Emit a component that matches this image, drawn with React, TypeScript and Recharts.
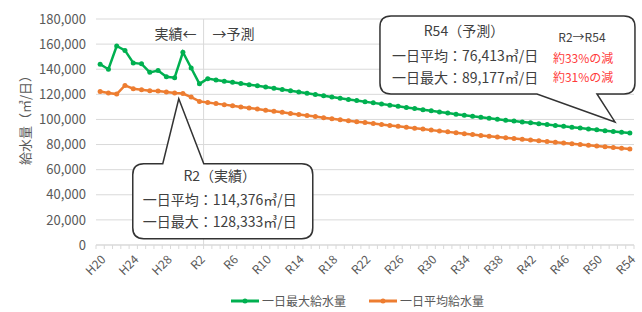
import React from "react";
import {
  CartesianGrid,
  Legend,
  Line,
  LineChart,
  ReferenceDot,
  ReferenceLine,
  XAxis,
  YAxis
} from "recharts";

const years = [
  "H20", "H21", "H22", "H23", "H24", "H25", "H26", "H27", "H28", "H29", "H30",
  "R1", "R2", "R3", "R4", "R5", "R6", "R7", "R8", "R9", "R10",
  "R11", "R12", "R13", "R14", "R15", "R16", "R17", "R18", "R19", "R20",
  "R21", "R22", "R23", "R24", "R25", "R26", "R27", "R28", "R29", "R30",
  "R31", "R32", "R33", "R34", "R35", "R36", "R37", "R38", "R39", "R40",
  "R41", "R42", "R43", "R44", "R45", "R46", "R47", "R48", "R49", "R50",
  "R51", "R52", "R53", "R54"
];

// 一日最大給水量 (㎥/日)
const maxSupply = [
  144000, 140000, 158500, 155000, 145000, 144300, 137500, 139000, 134000, 133200, 153500,
  141000, 128333, 132500, 131400, 130500, 129600, 128700, 127700, 126800, 125800,
  124800, 123900, 122900, 121900, 120900, 119900, 118900, 117900, 116900, 115900,
  115000, 114100, 113200, 112300, 111400, 110500, 109600, 108700, 107800, 106900,
  106000, 105100, 104200, 103300, 102500, 101700, 100900, 100100, 99400, 98700,
  98000, 97300, 96600, 95900, 95200, 94500, 93800, 93100, 92400, 91700,
  91000, 90400, 89800, 89177
];

// 一日平均給水量 (㎥/日)
const avgSupply = [
  122300, 121000, 120200, 127100, 124500, 123700, 122900, 122600, 121800, 121000, 120600,
  117800, 114376, 113500, 112600, 111800, 110900, 110000, 109100, 108300, 107400,
  106500, 105700, 104800, 104000, 103100, 102300, 101400, 100600, 99800, 99000,
  98200, 97500, 96700, 96000, 95200, 94500, 93700, 93000, 92300, 91500,
  90800, 90100, 89400, 88700, 88000, 87300, 86600, 86000, 85400, 84800,
  84200, 83600, 83000, 82400, 81800, 81200, 80600, 80000, 79400, 78800,
  78200, 77600, 77000, 76413
];

const yTicks = [0, 20000, 40000, 60000, 80000, 100000, 120000, 140000, 160000, 180000];
const labelYears = [
  "H20", "H24", "H28", "R2", "R6", "R10", "R14", "R18", "R22",
  "R26", "R30", "R34", "R38", "R42", "R46", "R50", "R54"
];

const FONT = '"Noto Sans CJK JP", "Noto Sans", sans-serif';
const GREEN = "#00B050";
const ORANGE = "#ED7D31";
const GRID = "#D9D9D9";
const AXIS_TEXT = "#595959";
const NOTE_TEXT = "#404040";
const RED = "#FF3B3B";

const data = years.map((year, i) => ({ idx: i, year, max: maxSupply[i], avg: avgSupply[i] }));

// category boundaries get a small tick mark, label positions get the year text
const labelTicks = labelYears.map((y) => years.indexOf(y));
const boundaryTicks = [-0.5, ...years.map((_, i) => i + 0.5)];
const xTicks = [...boundaryTicks, ...labelTicks].sort((a, b) => a - b);

function YearTick(props: any) {
  const { x, y, payload } = props;
  const v = payload.value;
  if (!Number.isInteger(v)) {
    return <line x1={x} x2={x} y1={y} y2={y + 4} stroke={GRID} />;
  }
  const tx = x + 4;
  const ty = y + 13;
  return (
    <text
      x={tx}
      y={ty}
      transform={`rotate(-45 ${tx} ${ty})`}
      textAnchor="end"
      dominantBaseline="middle"
      fontSize={12}
      fontFamily={FONT}
      fill={AXIS_TEXT}
    >
      {years[v]}
    </text>
  );
}

function R2Bubble(props: any) {
  const { cx, cy } = props;
  const l = cx - 46, r = cx + 134, t = cy + 65, b = cy + 140, rad = 11;
  const d = `M${l + rad},${t} L${cx - 16},${t} L${cx},${cy} L${cx + 25},${t} L${r - rad},${t}
    Q${r},${t} ${r},${t + rad} L${r},${b - rad} Q${r},${b} ${r - rad},${b}
    L${l + rad},${b} Q${l},${b} ${l},${b - rad} L${l},${t + rad} Q${l},${t} ${l + rad},${t} Z`;
  return (
    <g fontFamily={FONT} fill={NOTE_TEXT}>
      <path d={d} fill="#fff" stroke="#333" strokeWidth={1.5} />
      <text x={cx + 41} y={cy + 78} textAnchor="middle" dominantBaseline="middle" fontSize={14}>
        R2（実績）
      </text>
      <text x={cx - 36} y={cy + 102} dominantBaseline="middle" fontSize={14}>
        一日平均：114,376㎥/日
      </text>
      <text x={cx - 36} y={cy + 124} dominantBaseline="middle" fontSize={14}>
        一日最大：128,333㎥/日
      </text>
    </g>
  );
}

function R54Bubble(props: any) {
  const { cx, cy } = props;
  const l = cx - 235, r = cx + 20, t = cy - 106, b = cy - 28, rad = 11;
  const d = `M${l + rad},${t} L${r - rad},${t} Q${r},${t} ${r},${t + rad} L${r},${b - rad}
    Q${r},${b} ${r - rad},${b} L${cx - 18},${b} L${cx},${cy} L${cx - 78},${b}
    L${l + rad},${b} Q${l},${b} ${l},${b - rad} L${l},${t + rad} Q${l},${t} ${l + rad},${t} Z`;
  return (
    <g fontFamily={FONT} fill={NOTE_TEXT}>
      <path d={d} fill="#fff" stroke="#333" strokeWidth={1.5} />
      <text x={cx - 151} y={cy - 90} textAnchor="middle" dominantBaseline="middle" fontSize={14}>
        R54（予測）
      </text>
      <text x={cx - 223} y={cy - 65} dominantBaseline="middle" fontSize={14}>
        一日平均：76,413㎥/日
      </text>
      <text x={cx - 223} y={cy - 43} dominantBaseline="middle" fontSize={14}>
        一日最大：89,177㎥/日
      </text>
      <text x={cx - 33} y={cy - 83} textAnchor="middle" dominantBaseline="middle" fontSize={12}>
        R2→R54
      </text>
      <text x={cx - 62} y={cy - 62} dominantBaseline="middle" fontSize={12} fill={RED}>
        約33%の減
      </text>
      <text x={cx - 62} y={cy - 43} dominantBaseline="middle" fontSize={12} fill={RED}>
        約31%の減
      </text>
    </g>
  );
}

function LegendContent() {
  const items = [
    { name: "一日最大給水量", color: GREEN },
    { name: "一日平均給水量", color: ORANGE }
  ];
  return (
    <div style={{ display: "flex", marginLeft: 230, fontFamily: FONT, fontSize: 12, color: AXIS_TEXT }}>
      {items.map((it) => (
        <div key={it.name} style={{ display: "flex", alignItems: "center", marginRight: 22 }}>
          <svg width={30} height={10}>
            <line x1={1} x2={29} y1={5} y2={5} stroke={it.color} strokeWidth={3} />
            <circle cx={15} cy={5} r={2.5} fill={it.color} />
          </svg>
          <span style={{ marginLeft: 2 }}>{it.name}</span>
        </div>
      ))}
    </div>
  );
}

export default function App() {
  return (
    <div style={{ position: "absolute", left: 0, top: 0, width: 642, height: 312, background: "#fff" }}>
      <LineChart
        width={642}
        height={312}
        data={data}
        margin={{ top: 19, right: 8, bottom: 0, left: 0 }}
      >
        <CartesianGrid vertical={false} stroke={GRID} />
        <XAxis
          type="number"
          dataKey="idx"
          domain={[-0.5, 64.5]}
          ticks={xTicks}
          interval={0}
          tickSize={0}
          tickMargin={0}
          tickLine={false}
          axisLine={{ stroke: GRID }}
          tick={<YearTick />}
          height={47}
          allowDataOverflow
        />
        <YAxis
          domain={[0, 180000]}
          ticks={yTicks}
          width={96}
          axisLine={false}
          tickLine={false}
          tickSize={0}
          tickMargin={10}
          tickFormatter={(v: number) => v.toLocaleString("en-US")}
          tick={{ fontSize: 13, fontFamily: FONT, fill: AXIS_TEXT }}
          label={{
            content: ({ viewBox }: any) => {
              const lx = viewBox.x + 26;
              const ly = viewBox.y + 98;
              return (
                <text
                  x={lx}
                  y={ly}
                  transform={`rotate(-90 ${lx} ${ly})`}
                  textAnchor="middle"
                  dominantBaseline="middle"
                  fontSize={13}
                  fontFamily={FONT}
                  fill={AXIS_TEXT}
                >
                  給水量（㎥/日）
                </text>
              );
            }
          }}
        />
        <ReferenceLine
          x={12.5}
          stroke={GRID}
          label={{
            content: ({ viewBox }: any) => (
              <g fontFamily={FONT} fontSize={14} fill={NOTE_TEXT}>
                <text x={viewBox.x - 7} y={viewBox.y + 16} textAnchor="end" dominantBaseline="middle">
                  実績←
                </text>
                <text x={viewBox.x + 9} y={viewBox.y + 16} dominantBaseline="middle">
                  →予測
                </text>
              </g>
            )
          }}
        />
        <Legend verticalAlign="bottom" height={20} content={<LegendContent />} />
        <Line
          dataKey="max"
          stroke={GREEN}
          strokeWidth={2.5}
          dot={{ r: 2.5, fill: GREEN, stroke: GREEN, strokeWidth: 0 }}
          isAnimationActive={false}
        />
        <Line
          dataKey="avg"
          stroke={ORANGE}
          strokeWidth={2.5}
          dot={{ r: 2.5, fill: ORANGE, stroke: ORANGE, strokeWidth: 0 }}
          isAnimationActive={false}
        />
        <ReferenceDot x={9.5} y={116500} ifOverflow="visible" shape={(p: any) => <R2Bubble {...p} />} />
        <ReferenceDot x={62.2} y={98000} ifOverflow="visible" shape={(p: any) => <R54Bubble {...p} />} />
      </LineChart>
    </div>
  );
}
